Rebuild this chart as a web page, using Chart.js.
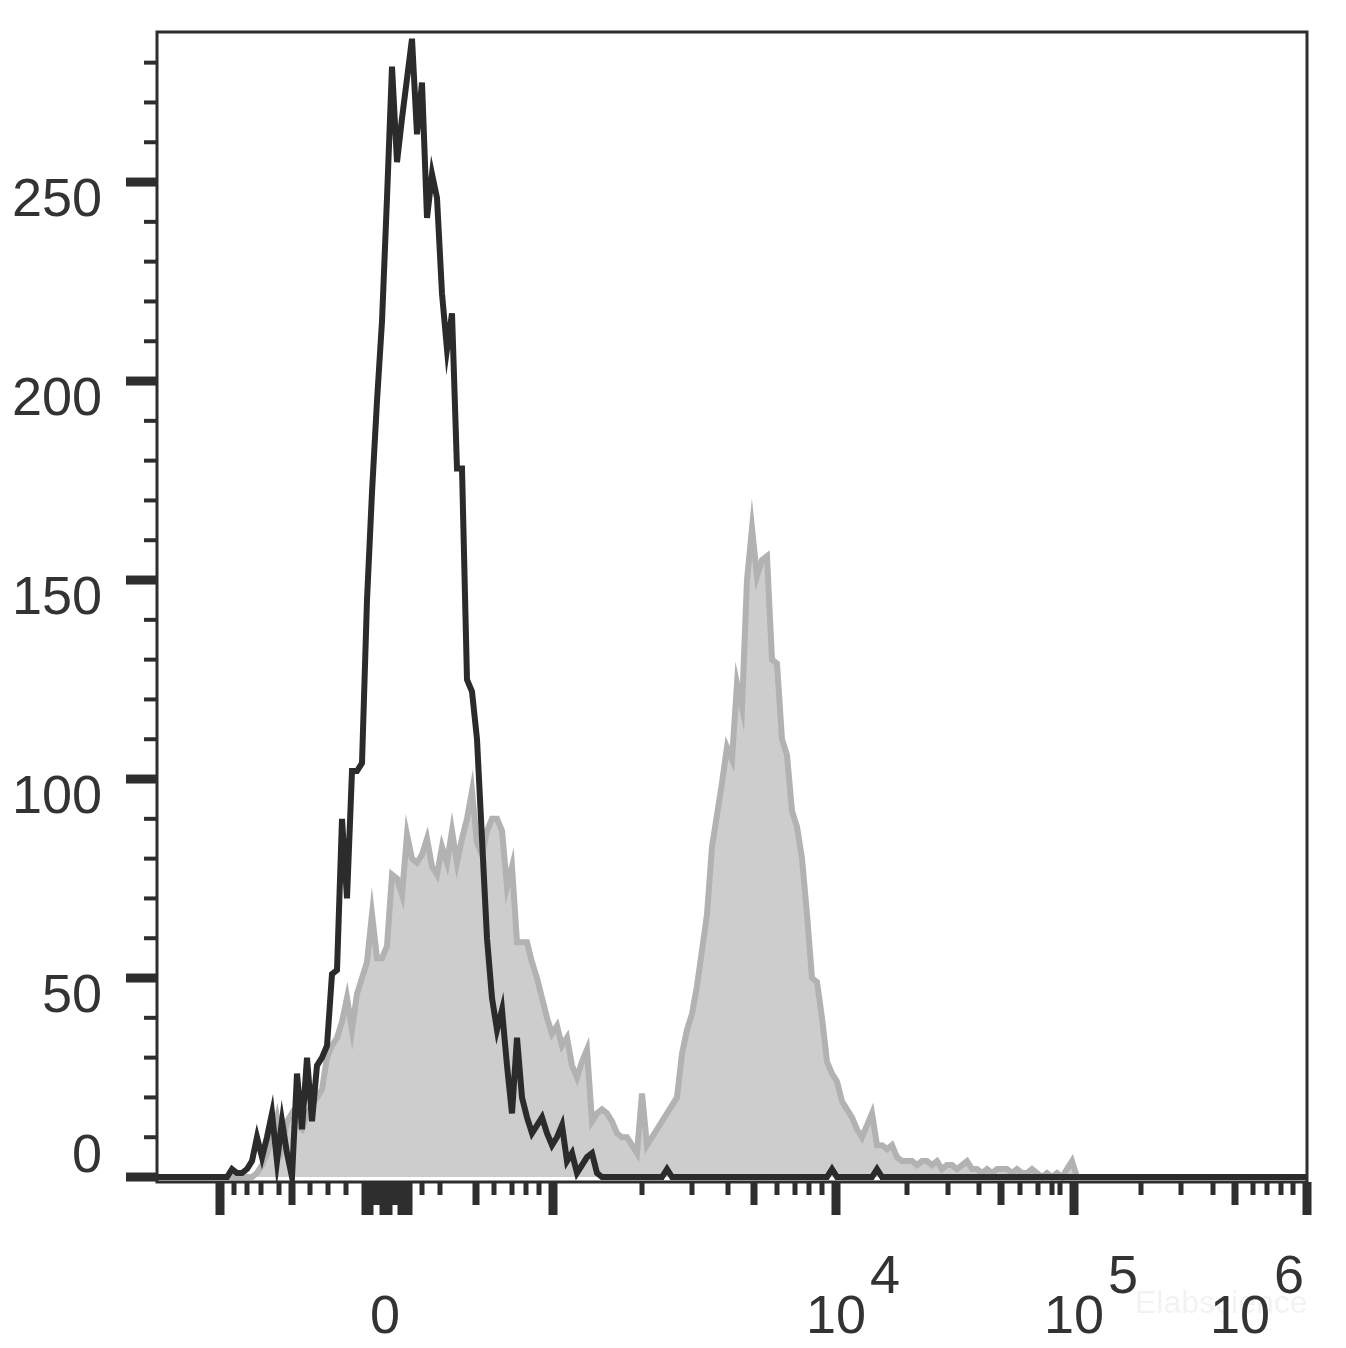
<!DOCTYPE html>
<html>
<head>
<meta charset="utf-8">
<script src="https://cdn.jsdelivr.net/npm/chart.js@4.4.1/dist/chart.umd.min.js"></script>
<style>
html, body { margin: 0; padding: 0; background: #fff; }
</style>
</head>
<body>
<canvas id="myChart" width="1346" height="1348"></canvas>
<script>
// counts per channel (channel 0..230)
var blackCounts = [
    0, 0, 0, 0, 0, 0, 0, 0, 0, 0,
    0, 0, 0, 0, 0, 2, 1, 1, 2, 4,
    10, 5, 10, 16, 4, 14, 6, 0, 26, 12,
    30, 14, 28, 30, 33, 51, 52, 90, 70, 102,
    102, 104, 145, 172, 195, 215, 246, 279, 255, 266,
    276, 286, 262, 275, 241, 252, 246, 222, 208, 217,
    178, 178, 125, 122, 110, 85, 60, 45, 37, 42,
    28, 16, 35, 20, 15, 11, 13, 15, 11, 8,
    10, 13, 4, 6, 1, 3, 5, 6, 1, 0,
    0, 0, 0, 0, 0, 0, 0, 0, 0, 0,
    0, 0, 2, 0, 0, 0, 0, 0, 0, 0,
    0, 0, 0, 0, 0, 0, 0, 0, 0, 0,
    0, 0, 0, 0, 0, 0, 0, 0, 0, 0,
    0, 0, 0, 0, 0, 2, 0, 0, 0, 0,
    0, 0, 0, 0, 2, 0, 0, 0, 0, 0,
    0, 0, 0, 0, 0, 0, 0, 0, 0, 0,
    0, 0, 0, 0, 0, 0, 0, 0, 0, 0,
    0, 0, 0, 0, 0, 0, 0, 0, 0, 0,
    0, 0, 0, 0, 0, 0, 0, 0, 0, 0,
    0, 0, 0, 0, 0, 0, 0, 0, 0, 0,
    0, 0, 0, 0, 0, 0, 0, 0, 0, 0,
    0, 0, 0, 0, 0, 0, 0, 0, 0, 0,
    0, 0, 0, 0, 0, 0, 0, 0, 0, 0,
    0
];
var grayCounts = [
    0, 0, 0, 0, 0, 0, 0, 0, 0, 0,
    0, 0, 0, 0, 0, 0, 0, 0, 0, 0,
    1, 3, 6, 10, 15, 8, 14, 16, 13, 12,
    16, 18, 20, 22, 30, 33, 35, 39, 45, 37,
    46, 50, 54, 66, 55, 55, 58, 76, 75, 71,
    86, 80, 79, 81, 85, 78, 76, 83, 79, 87,
    79, 85, 90, 97, 84, 81, 87, 90, 90, 87,
    73, 78, 59, 59, 59, 54, 50, 45, 40, 36,
    38, 33, 35, 28, 25, 29, 32, 14, 16, 17,
    16, 14, 11, 10, 10, 8, 6, 21, 8, 10,
    12, 14, 16, 18, 20, 31, 37, 41, 48, 57,
    66, 83, 91, 99, 108, 105, 124, 118, 150, 163,
    151, 155, 156, 130, 129, 110, 106, 92, 88, 80,
    66, 50, 49, 40, 29, 26, 24, 19, 17, 15,
    12, 10, 13, 16, 8, 8, 7, 8, 5, 4,
    4, 4, 3, 4, 4, 3, 4, 2, 3, 3,
    2, 3, 4, 2, 2, 1, 2, 1, 2, 2,
    2, 1, 2, 1, 1, 2, 1, 0, 1, 0,
    1, 0, 2, 4, 0, 0, 0, 0, 0, 0,
    0, 0, 0, 0, 0, 0, 0, 0, 0, 0,
    0, 0, 0, 0, 0, 0, 0, 0, 0, 0,
    0, 0, 0, 0, 0, 0, 0, 0, 0, 0,
    0, 0, 0, 0, 0, 0, 0, 0, 0, 0,
    0
];

// y axis ticks
var yMajorTicks = [0, 50, 100, 150, 200, 250];
var yMinorTicks = [10, 20, 30, 40, 60, 70, 80, 90, 110, 120, 130, 140, 160, 170, 180, 190, 210, 220, 230, 240, 260, 270, 280];

// x axis ticks (in channels)
var xLongTicks = [12.6, 41.8, 42.4, 45.4, 46.2, 49, 49.6, 50.2, 79.2, 135.8, 183.4, 230];
var xMediumTicks = [27, 43.4, 44.2, 47, 47.8, 63.8, 119.4, 168.8, 215.6];
var xMinorTicks = [15.4, 18, 20.8, 24.4, 30.6, 34.2, 37.8, 53, 56.6, 67.4, 71, 73.8, 76.4,
    97, 107, 114.2, 124, 127.6, 130.4, 133, 150, 158.2, 164.4, 172.6, 176.2, 179, 180.6,
    196.8, 204.8, 211.2, 219.2, 222, 224.8, 227.2];
var xLabelValues = [45.6, 135.8, 183.4, 230];
var xLabelBases = ['0', '10', '10', '10'];
var xLabelExps = ['', '4', '5', '6'];

function toPoints(counts) {
    var pts = [];
    for (var i = 0; i < counts.length; i++) {
        pts.push({ x: i, y: counts[i] });
    }
    return pts;
}

var FONT = '"Liberation Sans", Arial, sans-serif';
var DARK = '#2e2e2e';

var axisPlugin = {
    id: 'cytoAxes',
    afterDatasetsDraw: function (chart) {
        var ctx = chart.ctx;
        var area = chart.chartArea;
        var xs = chart.scales.x;
        var ys = chart.scales.y;
        ctx.save();

        // frame
        ctx.strokeStyle = DARK;
        ctx.lineWidth = 3;
        ctx.strokeRect(area.left, area.top, area.right - area.left, area.bottom - area.top);

        ctx.fillStyle = DARK;
        // y ticks
        yMinorTicks.forEach(function (v) {
            var py = ys.getPixelForValue(v);
            ctx.fillRect(area.left - 13, py - 2, 13, 4);
        });
        yMajorTicks.forEach(function (v) {
            var py = ys.getPixelForValue(v);
            ctx.fillRect(area.left - 31, py - 4.5, 31, 9);
        });
        // x ticks
        xMinorTicks.forEach(function (v) {
            var px = xs.getPixelForValue(v);
            ctx.fillRect(px - 2.5, area.bottom, 5, 13);
        });
        xMediumTicks.forEach(function (v) {
            var px = xs.getPixelForValue(v);
            ctx.fillRect(px - 3.5, area.bottom, 7, 23);
        });
        xLongTicks.forEach(function (v) {
            var px = xs.getPixelForValue(v);
            ctx.fillRect(px - 4.5, area.bottom, 9, 33);
        });

        // watermark
        ctx.fillStyle = 'rgba(0,0,0,0.05)';
        ctx.font = '32px ' + FONT;
        ctx.textAlign = 'left';
        ctx.textBaseline = 'alphabetic';
        ctx.fillText('Elabscience', 1135, 1313);

        // y labels
        ctx.fillStyle = '#333';
        ctx.font = '54px ' + FONT;
        ctx.textAlign = 'right';
        ctx.textBaseline = 'middle';
        yMajorTicks.forEach(function (v) {
            var py = ys.getPixelForValue(v);
            ctx.fillText(String(v), 102, py + (v === 0 ? -20 : 19));
        });

        // x labels
        ctx.textBaseline = 'alphabetic';
        var baseY = area.bottom + 151;
        var expY = baseY - 40;
        for (var i = 0; i < xLabelValues.length; i++) {
            var px = xs.getPixelForValue(xLabelValues[i]);
            var base = xLabelBases[i];
            var exp = xLabelExps[i];
            var wb = ctx.measureText(base).width;
            var we = exp ? ctx.measureText(exp).width : 0;
            var start = px - wb / 2;
            if (start + wb + 4 + we > area.right) {
                start = area.right - 3 - (wb + 4 + we);
            }
            ctx.textAlign = 'left';
            ctx.fillText(base, start, baseY);
            if (exp) {
                ctx.fillText(exp, start + wb + 4, expY);
            }
        }
        ctx.restore();
    }
};

var ctx = document.getElementById('myChart').getContext('2d');
var myChart = new Chart(ctx, {
    type: 'line',
    data: {
        datasets: [{
            label: 'Control',
            data: toPoints(blackCounts),
            borderColor: '#2b2b2b',
            borderWidth: 6,
            borderJoinStyle: 'miter',
            pointRadius: 0,
            tension: 0,
            fill: false,
            order: 0
        }, {
            label: 'Sample',
            data: toPoints(grayCounts),
            borderColor: '#b2b2b2',
            backgroundColor: '#cdcdcd',
            borderWidth: 6,
            borderJoinStyle: 'miter',
            pointRadius: 0,
            tension: 0,
            fill: 'origin',
            order: 1
        }]
    },
    options: {
        responsive: false,
        animation: false,
        layout: {
            padding: { left: 157, right: 39, top: 32, bottom: 166 }
        },
        plugins: {
            legend: { display: false },
            tooltip: { enabled: false }
        },
        scales: {
            x: { type: 'linear', min: 0, max: 230, display: false },
            y: { type: 'linear', min: -1.25, max: 287.7, display: false }
        }
    },
    plugins: [axisPlugin]
});
</script>
</body>
</html>
